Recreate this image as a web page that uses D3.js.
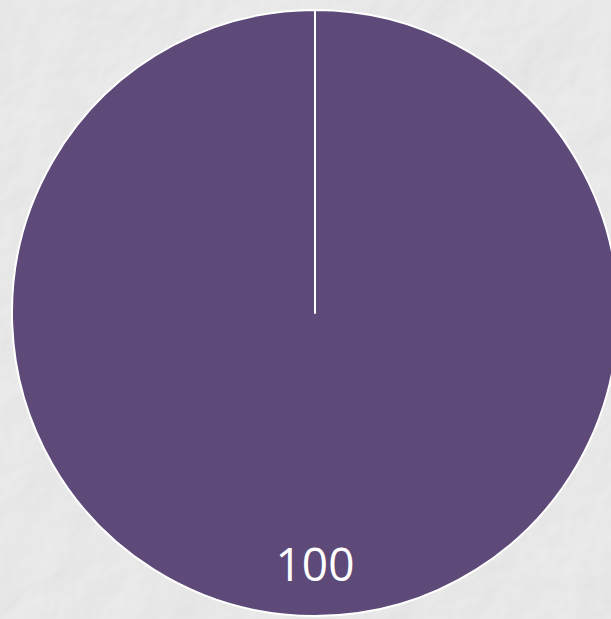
<!DOCTYPE html>
<head>
  <meta charset="utf-8">
  <title>Pie</title>
  <script src="https://cdn.jsdelivr.net/npm/d3@7"></script>
  <style>
    body { margin: 0; background: #ebebeb; }
  </style>
</head>
<body>
  <svg width="611" height="619"></svg>
  <script>
  var categories = ["A"];
  var values = [100];
  var labels = ["100"];

  var svg = d3.select("svg"),
      width = +svg.attr("width"),
      height = +svg.attr("height");

  // crumpled paper background (light noise + lighting)
  var defs = svg.append("defs");
  var f = defs.append("filter").attr("id", "paper")
      .attr("x", 0).attr("y", 0).attr("width", "100%").attr("height", "100%");
  f.append("feTurbulence").attr("type", "fractalNoise")
      .attr("baseFrequency", 0.015).attr("numOctaves", 4).attr("seed", 7)
      .attr("result", "noise");
  f.append("feDiffuseLighting").attr("in", "noise").attr("lighting-color", "#f4f4f4")
      .attr("surfaceScale", 2.5)
    .append("feDistantLight").attr("azimuth", 45).attr("elevation", 60);
  svg.append("rect").attr("width", width).attr("height", height).attr("fill", "#ebebeb");
  svg.append("rect").attr("width", width).attr("height", height)
      .attr("filter", "url(#paper)").attr("opacity", 0.45);

  var cx = 315, cy = 313, r = 303;

  var color = d3.scaleOrdinal().domain(categories).range(["#5e4a78"]);

  var pie = d3.pie().sort(null).endAngle(2 * Math.PI - 1e-4);
  var arc = d3.arc().innerRadius(0).outerRadius(r);
  var labelArc = d3.arc().innerRadius(r * 0.83).outerRadius(r * 0.83);

  var g = svg.append("g").attr("transform", "translate(" + cx + "," + cy + ")");

  var slices = g.selectAll("g.slice")
    .data(pie(values))
    .enter().append("g").attr("class", "slice");

  slices.append("path")
      .attr("d", arc)
      .attr("fill", function(d, i) { return color(categories[i]); })
      .attr("stroke", "#fff")
      .attr("stroke-width", 2)
      .attr("stroke-linejoin", "round");

  slices.append("text")
      .attr("transform", function(d) {
        var c = labelArc.centroid({startAngle: 0, endAngle: 2 * Math.PI});
        return "translate(" + c[0] + "," + c[1] + ")";
      })
      .attr("text-anchor", "middle")
      .attr("dy", "0.36em")
      .attr("fill", "#fff")
      .attr("font-family", "Open Sans, sans-serif")
      .attr("font-size", 46)
      .text(function(d, i) { return labels[i]; });
  </script>
</body>
